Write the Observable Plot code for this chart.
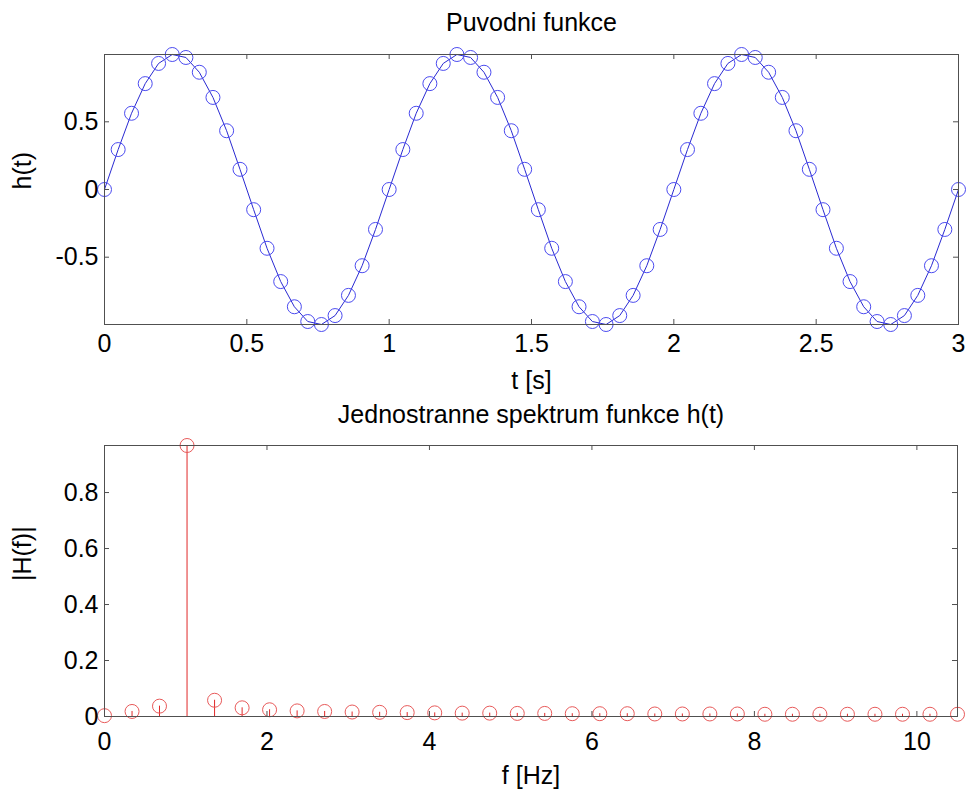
<!DOCTYPE html>
<html><head><meta charset="utf-8">
<script src="https://cdn.jsdelivr.net/npm/d3@7"></script>
<script src="https://cdn.jsdelivr.net/npm/@observablehq/plot@0.6"></script>
<style>
body{margin:0;background:#fff}
#c{position:relative;width:969px;height:789px;background:#fff}
#c svg{position:absolute;left:0;overflow:visible}
</style>
</head><body><div id="c"></div>
<script>
// time samples (s)
const t = [0,0.048,0.095,0.143,0.190,0.238,0.286,0.333,0.381,0.429,0.476,0.524,0.571,0.619,0.667,0.714,0.762,0.810,0.857,0.905,0.952,
  1.000,1.048,1.095,1.143,1.190,1.238,1.286,1.333,1.381,1.429,1.476,1.524,1.571,1.619,1.667,1.714,1.762,1.810,1.857,1.905,1.952,
  2.000,2.048,2.095,2.143,2.190,2.238,2.286,2.333,2.381,2.429,2.476,2.524,2.571,2.619,2.667,2.714,2.762,2.810,2.857,2.905,2.952,
  3.000];
// h(t) values
const h = [0,0.295,0.563,0.782,0.931,0.997,0.975,0.866,0.680,0.434,0.149,-0.149,-0.434,-0.680,-0.866,-0.975,-0.997,-0.931,-0.782,-0.563,-0.295,
  0,0.295,0.563,0.782,0.931,0.997,0.975,0.866,0.680,0.434,0.149,-0.149,-0.434,-0.680,-0.866,-0.975,-0.997,-0.931,-0.782,-0.563,-0.295,
  0,0.295,0.563,0.782,0.931,0.997,0.975,0.866,0.680,0.434,0.149,-0.149,-0.434,-0.680,-0.866,-0.975,-0.997,-0.931,-0.782,-0.563,-0.295,
  0];
// spectrum frequencies (Hz)
const freq = [0,0.339,0.677,1.016,1.355,1.694,2.032,2.371,2.710,3.048,3.387,3.726,4.065,4.403,4.742,5.081,
  5.419,5.758,6.097,6.435,6.774,7.113,7.452,7.790,8.129,8.468,8.806,9.145,9.484,9.823,10.161,10.500];
// |H(f)|
const mag = [0.003,0.018,0.037,0.968,0.058,0.031,0.024,0.020,0.018,0.016,0.015,0.014,0.013,0.012,0.012,0.011,
  0.011,0.010,0.010,0.010,0.009,0.009,0.009,0.009,0.008,0.008,0.008,0.008,0.008,0.008,0.008,0.008];

const tTicks = [0,0.5,1,1.5,2,2.5,3];
const hTicks = [-0.5,0,0.5];
const fTicks = [0,2,4,6,8,10];
const magTicks = [0,0.2,0.4,0.6,0.8];

const sig = t.map((x,i)=>({t:x, h:h[i]}));
const spec = freq.map((f,i)=>({f, m:mag[i]}));

const FONT = "'Liberation Sans', Arial, Helvetica, sans-serif";
const FS = 25;
const W = 969;
const axisColor = "#505050";
const fmt = d => String(d);

function boxTicks(xt, yt, fw, fh) {
  const L = 5;
  return [
    Plot.tickX(xt, {x: d=>d, insetTop: fh - L, stroke: axisColor}),
    Plot.tickX(xt, {x: d=>d, insetBottom: fh - L, stroke: axisColor}),
    Plot.tickY(yt, {y: d=>d, insetRight: fw - L, stroke: axisColor}),
    Plot.tickY(yt, {y: d=>d, insetLeft: fw - L, stroke: axisColor})
  ];
}

// top panel
const H1 = 392, mt1 = 54, mb1 = 68, ml = 104, mr1 = 11;
const fw1 = W - ml - mr1, fh1 = H1 - mt1 - mb1;
const topChart = Plot.plot({
  width: W, height: H1,
  marginTop: mt1, marginBottom: mb1, marginLeft: ml, marginRight: mr1,
  x: {domain: [0, 3]},
  y: {domain: d3.extent(h)},
  style: {fontFamily: FONT, fontSize: FS + "px", color: "#000", background: "transparent", overflow: "visible"},
  marks: [
    Plot.line(sig, {x: "t", y: "h", stroke: "#2a2ad2", strokeWidth: 1}),
    Plot.dot(sig, {x: "t", y: "h", r: 7, stroke: "#4b4bf0", strokeWidth: 1}),
    Plot.frame({stroke: axisColor}),
    ...boxTicks(tTicks, hTicks, fw1, fh1),
    Plot.axisX(tTicks, {tickSize: 0, tickPadding: 10, tickFormat: fmt, fontSize: FS, label: null}),
    Plot.axisY(hTicks, {tickSize: 0, tickPadding: 6, tickFormat: fmt, fontSize: FS, label: null}),
    Plot.text(["Puvodni funkce"], {frameAnchor: "top", lineAnchor: "middle", dy: -32, fontSize: FS}),
    Plot.text(["t [s]"], {frameAnchor: "bottom", lineAnchor: "middle", dy: 56, fontSize: FS}),
    Plot.text(["h(t)"], {frameAnchor: "left", lineAnchor: "middle", dx: -82, rotate: -90, fontSize: FS})
  ]
});
topChart.style.top = "0px";

// bottom panel
const H2 = 397, mt2 = 53, mb2 = 73, mr2 = 12;
const fw2 = W - ml - mr2, fh2 = H2 - mt2 - mb2;
const bottomChart = Plot.plot({
  width: W, height: H2,
  marginTop: mt2, marginBottom: mb2, marginLeft: ml, marginRight: mr2,
  x: {domain: [0, d3.max(freq)]},
  y: {domain: [0, d3.max(mag)]},
  style: {fontFamily: FONT, fontSize: FS + "px", color: "#000", background: "transparent", overflow: "visible"},
  marks: [
    Plot.ruleX(spec, {x: "f", y1: 0, y2: "m", stroke: "#e02828", strokeWidth: 1}),
    Plot.dot(spec, {x: "f", y: "m", r: 7, stroke: "#e85a5a", strokeWidth: 1}),
    Plot.frame({stroke: axisColor}),
    ...boxTicks(fTicks, magTicks, fw2, fh2),
    Plot.axisX(fTicks, {tickSize: 0, tickPadding: 16, tickFormat: fmt, fontSize: FS, label: null}),
    Plot.axisY(magTicks, {tickSize: 0, tickPadding: 6, tickFormat: fmt, fontSize: FS, label: null}),
    Plot.text(["Jednostranne spektrum funkce h(t)"], {frameAnchor: "top", lineAnchor: "middle", dy: -31, fontSize: FS}),
    Plot.text(["f [Hz]"], {frameAnchor: "bottom", lineAnchor: "middle", dy: 59, fontSize: FS}),
    Plot.text(["|H(f)|"], {frameAnchor: "left", lineAnchor: "middle", dx: -82, rotate: -90, fontSize: FS})
  ]
});
bottomChart.style.top = H1 + "px";

const c = document.getElementById("c");
c.appendChild(topChart);
c.appendChild(bottomChart);
</script>
</body></html>
